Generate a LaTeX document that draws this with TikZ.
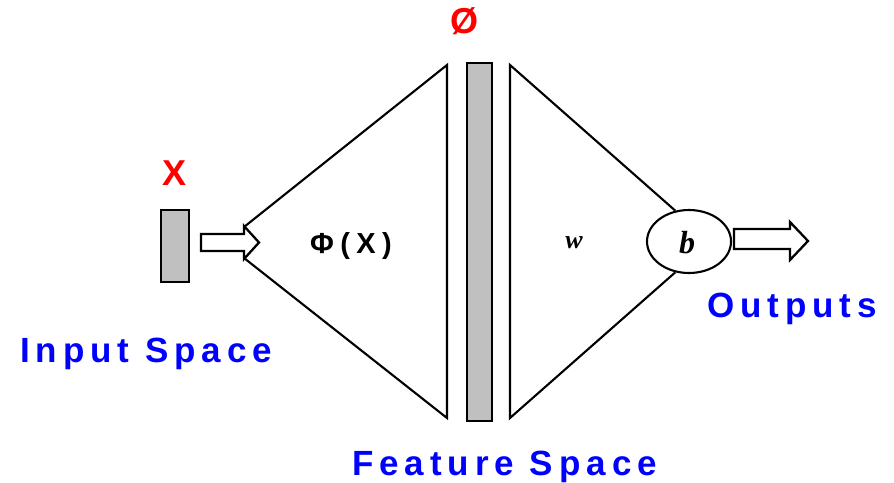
\documentclass[tikz,border=0pt]{standalone}
\usepackage{fontspec}
\usetikzlibrary{shapes.geometric}
\setmainfont{Liberation Sans}
\newfontfamily\lblfont[LetterSpace=17]{Liberation Sans}
\newfontfamily\phifont[LetterSpace=22]{Liberation Sans}
\newfontfamily\serfont{Liberation Serif}
\definecolor{lblblue}{RGB}{0,0,255}
\definecolor{lblred}{RGB}{255,0,0}
\definecolor{barfill}{RGB}{192,192,192}
\begin{document}
\begin{tikzpicture}[x=1pt,y=-1pt,
  edge/.style={line width=2.1pt,line join=miter},
  bar/.style={draw,line width=2.6pt,fill=barfill,inner sep=0pt},
  fatarrow/.style={draw,line width=2.3pt,fill=white,line join=miter},
  spacelbl/.style={text=lblblue,font=\lblfont\bfseries\fontsize{35}{40}\selectfont,inner sep=0pt,anchor=base west},
  redlbl/.style={text=lblred,font=\bfseries\fontsize{36}{40}\selectfont,inner sep=0pt}]
\useasboundingbox (0,0) rectangle (894,482);
% input bar
\node[bar,minimum width=28pt,minimum height=72pt] (inbar) at (175,246) {};
% feature bar
\node[bar,minimum width=25pt,minimum height=358pt] (fbar) at (479.5,242) {};
% left triangle
\coordinate (lt1) at (244,227);
\coordinate (lt2) at (447,65);
\coordinate (lt3) at (447,418);
\coordinate (lt4) at (244,258);
\draw[edge] (lt1) -- (lt2) -- (lt3) -- (lt4);
% output neuron
\node[draw,ellipse,line width=2.1pt,minimum width=84pt,minimum height=63pt,inner sep=0pt] (b) at (689,241.5) {};
\node[font=\serfont\bfseries\itshape\fontsize{32}{36}\selectfont,inner sep=0pt] (blbl) at (687,243) {b};
% right triangle
\coordinate (rt1) at (510,65);
\coordinate (rt2) at (510,418);
\draw[edge] (b.114) -- (rt1) -- (rt2) -- (b.246);
% input arrow
\coordinate (ia) at (201,234);
\draw[fatarrow] (ia) -- (244,234) -- (244,226) -- (259,242.5) -- (244,259) -- (244,251) -- (201,251) -- cycle;
% output arrow
\coordinate (oa) at (734,229);
\draw[fatarrow] (oa) -- (790,229) -- (790,222) -- (808,241) -- (790,260) -- (790,249) -- (734,249) -- cycle;
% labels
\node[redlbl] (xlbl) at (175,173) {X};
\node[redlbl] (philbl) at (464,21) {Ø};
\node[font=\phifont\bfseries\fontsize{29}{34}\selectfont,inner sep=0pt] (phix) at (351,246) {Φ(X)};
\node[font=\serfont\bfseries\itshape\fontsize{26}{30}\selectfont,inner sep=0pt] (wlbl) at (574,243) {w};
\node[spacelbl] (inlbl) at (20,362) {Input Space};
\node[spacelbl] (outlbl) at (707,317) {Outputs};
\node[spacelbl] (featlbl) at (352,475) {Feature Space};
\end{tikzpicture}
\end{document}
